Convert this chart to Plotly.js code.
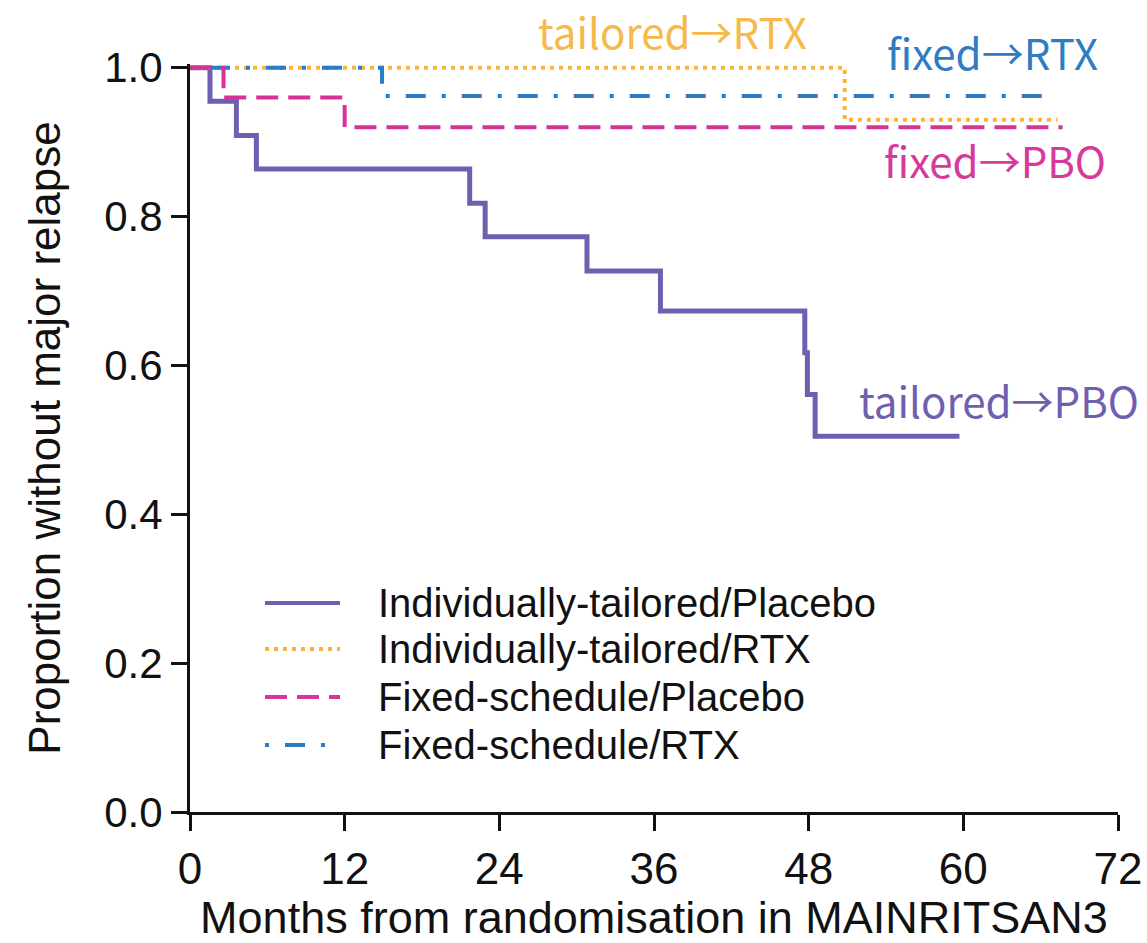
<!DOCTYPE html>
<html>
<head>
<meta charset="utf-8">
<script src="https://cdn.plot.ly/plotly-3.0.1.min.js"></script>
<style>html,body{margin:0;padding:0;background:#fff;}</style>
</head>
<body>
<div id="chart" style="width:1147px;height:943px;"></div>
<script>
// Kaplan-Meier step data (months, proportion without major relapse)
const tailoredPboMonths = [0, 1.55, 3.6, 5.15, 21.7, 22.9, 30.8, 36.5, 47.7, 47.9, 48.5, 59.7];
const tailoredPboSurv   = [1.0, 0.955, 0.909, 0.864, 0.818, 0.773, 0.727, 0.673, 0.617, 0.561, 0.505, 0.505];

const tailoredRtxMonths = [0, 50.8, 67.3];
const tailoredRtxSurv   = [1.0, 0.930, 0.930];

const fixedPboMonths = [0, 2.6, 12.0, 67.7];
const fixedPboSurv   = [1.0, 0.960, 0.920, 0.920];

const fixedRtxMonths = [0, 14.9, 67.0];
const fixedRtxSurv   = [1.0, 0.962, 0.962];

const seriesNames = [
  "Individually-tailored/Placebo",
  "Individually-tailored/RTX",
  "Fixed-schedule/Placebo",
  "Fixed-schedule/RTX"
];
const xTickVals = [0, 12, 24, 36, 48, 60, 72];
const yTickVals = [0, 0.2, 0.4, 0.6, 0.8, 1.0];
const yTickText = ["0.0", "0.2", "0.4", "0.6", "0.8", "1.0"];
const labelTexts = ["tailored→RTX", "fixed→RTX", "fixed→PBO", "tailored→PBO"];

const cPurple = "#6e5fb0";
const cOrange = "#f8b43c";
const cPink = "#d9309a";
const cBlue = "#2a7cc5";

const styles = [
  {color: cPurple, width: 5, dash: "solid"},
  {color: cOrange, width: 4, dash: "4px,5px"},
  {color: cPink, width: 4, dash: "22px,10px"},
  {color: cBlue, width: 4, dash: "4px,16px,20px,16px"}
];

const traces = [
  {x: tailoredPboMonths, y: tailoredPboSurv, name: seriesNames[0], mode: "lines",
   line: Object.assign({shape: "hv"}, styles[0])},
  {x: tailoredRtxMonths, y: tailoredRtxSurv, name: seriesNames[1], mode: "lines",
   line: Object.assign({shape: "hv"}, styles[1])},
  {x: fixedRtxMonths, y: fixedRtxSurv, name: seriesNames[3], mode: "lines",
   line: Object.assign({shape: "hv"}, styles[3])},
  {x: fixedPboMonths, y: fixedPboSurv, name: seriesNames[2], mode: "lines",
   line: Object.assign({shape: "hv"}, styles[2])}
];

const sans = "Liberation Sans, Arial, sans-serif";
const axFont = {family: sans, size: 44, color: "#111"};
const cjk = "Noto Sans CJK JP, Noto Sans, sans-serif";

function px2x(p){ return (p - 190) / 928; }
function py2y(p){ return (812 - p) / 748; }

// manual legend (line samples + labels)
const legendRowsPx = [603, 649, 697, 745];
const shapes = [];
const annotations = [];
seriesNames.forEach((nm, i) => {
  const yy = py2y(legendRowsPx[i]);
  shapes.push({type: "line", xref: "paper", yref: "paper",
    x0: px2x(265), x1: px2x(340), y0: yy, y1: yy,
    line: {color: styles[i].color, width: 4, dash: styles[i].dash}});
  annotations.push({text: nm, xref: "paper", yref: "paper", x: px2x(376), y: yy,
    xanchor: "left", yanchor: "middle", showarrow: false,
    font: {family: sans, size: 40, color: "#111"}});
});

const labelPos = [[672, 30, "#f7b94c"], [992, 52, "#2e7dc3"], [995, 160, "#d63a9d"], [999, 399, "#6e5fb0"]];
labelTexts.forEach((t, i) => {
  annotations.push({text: t, xref: "paper", yref: "paper",
    x: px2x(labelPos[i][0]), y: py2y(labelPos[i][1]),
    xanchor: "center", yanchor: "middle", showarrow: false,
    font: {family: cjk, size: 42, color: labelPos[i][2]}});
});

const layout = {
  width: 1147, height: 943,
  margin: {l: 190, r: 29, t: 64, b: 131, pad: 0},
  paper_bgcolor: "#fff", plot_bgcolor: "#fff",
  showlegend: false,
  xaxis: {
    range: [0, 72], tickvals: xTickVals, ticktext: xTickVals.map(String),
    showline: true, linecolor: "#111", linewidth: 3,
    ticks: "outside", ticklen: 16, tickwidth: 3, tickcolor: "#111",
    showgrid: false, zeroline: false,
    tickfont: axFont,
    title: {text: "Months from randomisation in MAINRITSAN3",
            font: {family: sans, size: 45, color: "#111"}, standoff: 14}
  },
  yaxis: {
    range: [0, 1.005], tickvals: yTickVals, ticktext: yTickText,
    showline: true, linecolor: "#111", linewidth: 3,
    ticks: "outside", ticklen: 16, tickwidth: 3, tickcolor: "#111",
    showgrid: false, zeroline: false,
    tickfont: {family: sans, size: 42, color: "#111"},
    title: {text: "Proportion without major relapse", font: axFont, standoff: 30}
  },
  shapes: shapes,
  annotations: annotations
};

Plotly.newPlot("chart", traces, layout, {displayModeBar: false, staticPlot: true});
</script>
</body>
</html>
